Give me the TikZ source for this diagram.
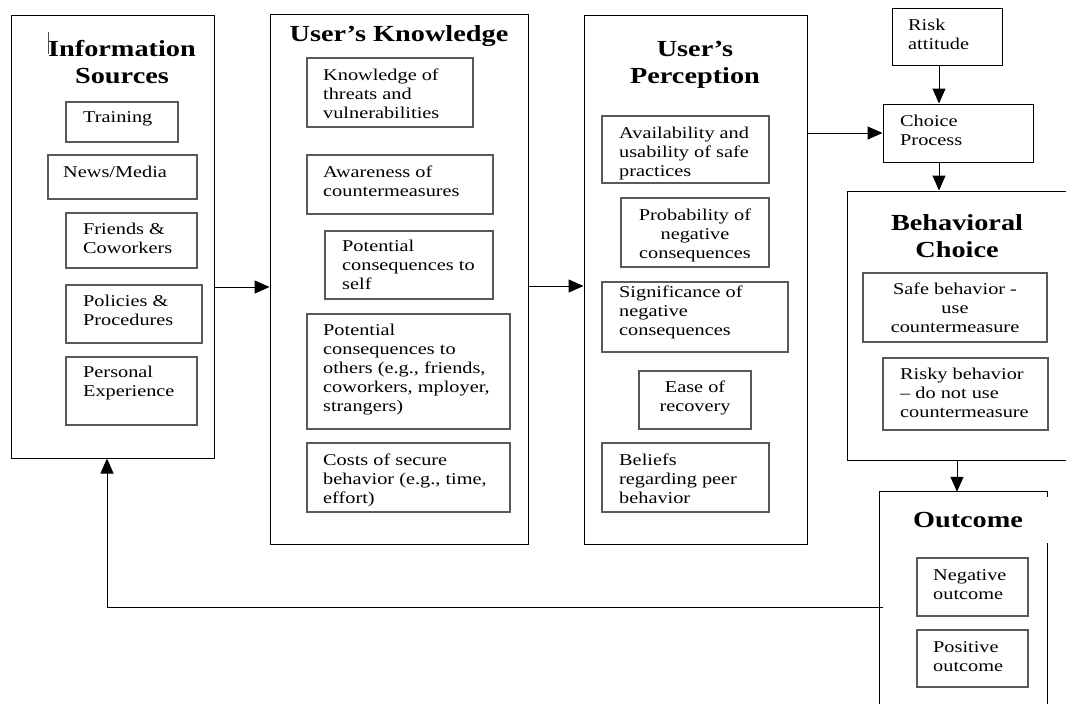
\documentclass[tikz,border=0pt]{standalone}
\usepackage{fontspec}
\setmainfont{Liberation Serif}[FakeStretch=1.23]
\usetikzlibrary{fit,arrows.meta}
\newcommand\bodyfnt{\fontsize{16.5}{19}\selectfont}
\newcommand\ttlfnt{\fontsize{23}{27}\selectfont\bfseries}
\tikzset{
  outbox/.style={draw=black, line width=1pt, inner sep=0pt},
  inbox/.style={draw=black!65, line width=1.3pt, inner sep=0pt},
  bodytxt/.style={inner sep=0pt, font=\bodyfnt, align=left, anchor=north west},
  bodyctr/.style={inner sep=0pt, font=\bodyfnt, align=center, anchor=north},
  ttltxt/.style={inner sep=0pt, font=\ttlfnt, align=center, anchor=north},
  arr/.style={draw=black, line width=1pt, -{Triangle[length=15pt,width=13pt]}},
  plain/.style={draw=black, line width=1pt}
}
% #1 style, #2 name, #3..#6 x1 y1 x2 y2
\newcommand\bx[6][inbox]{%
  \path (#3,#4) coordinate (#2-nw) (#5,#6) coordinate (#2-se);
  \node[#1, fit=(#2-nw)(#2-se)] (#2) {};}
% left aligned text: x, first baseline, text
\newcommand\txl[3]{\node[bodytxt] at (#1,#2-13.3) {\strut #3};}
\newcommand\txc[3]{\node[bodyctr] at (#1,#2-13.3) {\strut #3};}
\newcommand\txt[3]{\node[ttltxt] at (#1,#2-18.9) {\rule{0pt}{18.9pt}#3};}
\begin{document}
\begin{tikzpicture}[x=1pt,y=-1pt]
\useasboundingbox (0,0) rectangle (1066,704);
\begin{scope}
\clip (0,0) rectangle (1066,704);
% ---------- Information Sources
\bx[outbox]{info}{11}{15}{214}{458}
\draw[black!70, line width=0.6pt] (48,32) -- (48,54);
\txt{122}{56}{Information\\Sources}
\bx{train}{66}{102}{178}{142}   \txl{83}{122}{Training}
\bx{news}{48}{155}{197}{199}    \txl{63}{177}{News/Media}
\bx{friends}{66}{213}{197}{268} \txl{83}{234}{Friends \&\\Coworkers}
\bx{policies}{66}{285}{202}{343}\txl{83}{306}{Policies \&\\Procedures}
\bx{personal}{66}{357}{197}{425}\txl{83}{377}{Personal\\Experience}
% ---------- User's Knowledge
\bx[outbox]{know}{270}{14}{528}{544}
\txt{399}{41}{User’s Knowledge}
\bx{threats}{307}{58}{473}{127}  \txl{323}{80}{Knowledge of\\threats and\\vulnerabilities}
\bx{aware}{307}{155}{493}{214}   \txl{323}{177}{Awareness of\\countermeasures}
\bx{self}{325}{231}{493}{299}    \txl{342}{251}{Potential\\consequences to\\self}
\bx{others}{307}{314}{510}{429}  \txl{323}{335}{Potential\\consequences to\\others (e.g., friends,\\coworkers, mployer,\\strangers)}
\bx{costs}{307}{443}{510}{512}   \txl{323}{465}{Costs of secure\\behavior (e.g., time,\\effort)}
% ---------- User's Perception
\bx[outbox]{perc}{584}{15}{807}{544}
\txt{695}{56}{User’s\\Perception}
\bx{avail}{602}{116}{769}{183}   \txl{619}{138}{Availability and\\usability of safe\\practices}
\bx{prob}{621}{198}{769}{267}    \txc{695}{220}{Probability of\\negative\\consequences}
\bx{signif}{602}{282}{788}{352}  \txl{619}{297}{Significance of\\negative\\consequences}
\bx{ease}{639}{371}{751}{429}    \txc{695}{392}{Ease of\\recovery}
\bx{beliefs}{602}{443}{769}{512} \txl{619}{465}{Beliefs\\regarding peer\\behavior}
% ---------- Right column
\bx[outbox]{risk}{892}{8}{1002}{65}     \txl{908}{30}{Risk\\attitude}
\bx[outbox]{choice}{883}{104}{1033}{162}\txl{900}{126}{Choice\\Process}
\bx[outbox]{behav}{847}{191}{1075}{460}
\txt{957}{230}{Behavioral\\Choice}
\bx{safe}{863}{273}{1047}{342}   \txc{955}{294}{Safe behavior -\\use\\countermeasure}
\bx{risky}{883}{358}{1048}{430}  \txl{900}{379}{Risky behavior\\– do not use\\countermeasure}
% Outcome (open box)
\path (880,492) coordinate (out-nw) (1047,704) coordinate (out-se);
\node[inner sep=0pt, fit=(out-nw)(out-se)] (out) {};
\draw[plain] (out.south west) -- (out.north west) -- (out.north east) -- ++(0,5);
\draw[plain] (out.south east) -- ++(0,-161);
\txt{968}{527}{Outcome}
\bx{neg}{917}{558}{1028}{616}    \txl{933}{580}{Negative\\outcome}
\bx{pos}{917}{630}{1028}{687}    \txl{933}{652}{Positive\\outcome}
% ---------- Connectors
\coordinate (ya) at (0,287);
\coordinate (yb) at (0,286);
\coordinate (yc) at (0,133);
\coordinate (xa) at (939,0);
\coordinate (xb) at (957,0);
\coordinate (xf) at (107,0);
\coordinate (fb) at (883,607);
\draw[arr] (info.east |- ya) -- (know.west |- ya);
\draw[arr] (know.east |- yb) -- (perc.west |- yb);
\draw[arr] (perc.east |- yc) -- (choice.west |- yc);
\draw[arr] (risk.south -| xa) -- (choice.north -| xa);
\draw[arr] (choice.south -| xa) -- (behav.north -| xa);
\draw[arr] (behav.south -| xb) -- (out.north -| xb);
\draw[arr] (fb) -- (fb -| xf) -- (info.south -| xf);
\end{scope}
\end{tikzpicture}
\end{document}
